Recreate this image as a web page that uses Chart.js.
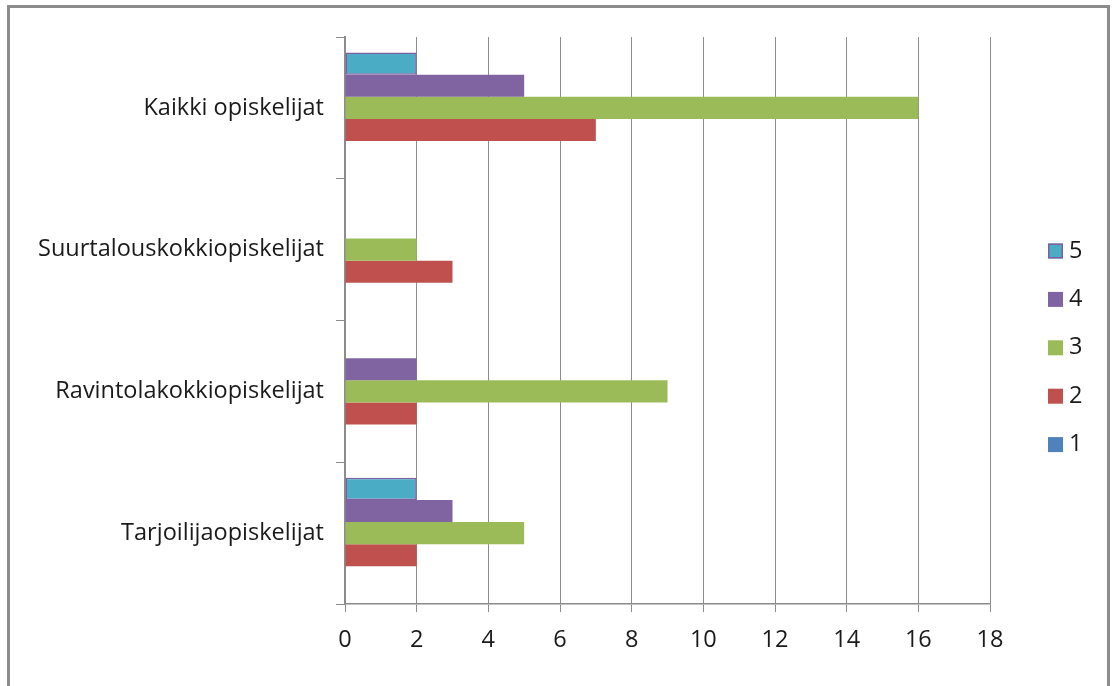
<!DOCTYPE html>
<html>
<head>
<meta charset="utf-8">
<script src="https://cdn.jsdelivr.net/npm/chart.js@4/dist/chart.umd.min.js"></script>
<style>
  html, body { margin: 0; padding: 0; background: #fff; overflow: hidden; }
  #wrap { position: relative; width: 1112px; height: 686px; }
  #frame {
    position: absolute; left: 7px; top: 5px; width: 1097px; height: 700px;
    border: 3px solid #8c8c8c; border-bottom: none; pointer-events: none;
  }
  canvas { position: absolute; left: 0; top: 0; }
</style>
</head>
<body>
<div id="wrap">
  <canvas id="chart" width="1112" height="686"></canvas>
  <div id="frame"></div>
</div>
<script>
// Student groups (top to bottom) and answer counts per rating 1–5
const categories = ["Kaikki opiskelijat", "Suurtalouskokkiopiskelijat", "Ravintolakokkiopiskelijat", "Tarjoilijaopiskelijat"];
const rating5 = [2, 0, 0, 2];
const rating4 = [5, 0, 2, 3];
const rating3 = [16, 2, 9, 5];
const rating2 = [7, 3, 2, 2];
const rating1 = [0, 0, 0, 0];
const xTicks = [0, 2, 4, 6, 8, 10, 12, 14, 16, 18];

const FONT = "'Open Sans', sans-serif";
const FONT_SIZE = 23.5;
const TEXT = "#1a1a1a";
const GRID = "#8c8c8c";

function ds(label, data, color, border) {
  return {
    label, data,
    backgroundColor: color,
    borderColor: border || color,
    borderWidth: c => (border && c.raw > 0 ? 1.5 : 0),
    borderSkipped: false
  };
}

// Legend drawn on the right, top to bottom in dataset order
const sideLegend = {
  id: "sideLegend",
  afterDraw(chart) {
    const ctx = chart.ctx;
    const items = chart.data.datasets;
    const x0 = 1048, y0 = 251, step = 48.4, box = 15;
    ctx.save();
    ctx.font = FONT_SIZE + "px " + FONT;
    ctx.textBaseline = "middle";
    ctx.textAlign = "left";
    items.forEach((d, i) => {
      const cy = y0 + i * step;
      ctx.fillStyle = d.backgroundColor;
      ctx.fillRect(x0, cy - box / 2, box, box);
      if (d.borderColor !== d.backgroundColor) {
        ctx.strokeStyle = d.borderColor;
        ctx.lineWidth = 1.5;
        ctx.strokeRect(x0 + 0.75, cy - box / 2 + 0.75, box - 1.5, box - 1.5);
      }
      ctx.fillStyle = TEXT;
      ctx.fillText(d.label, x0 + 21, cy);
    });
    ctx.restore();
  }
};

new Chart(document.getElementById("chart"), {
  type: "bar",
  data: {
    labels: categories,
    datasets: [
      ds("5", rating5, "#4BACC6", "#7E5FA2"),
      ds("4", rating4, "#8064A2"),
      ds("3", rating3, "#9BBB59"),
      ds("2", rating2, "#C0504D"),
      ds("1", rating1, "#4F81BD")
    ]
  },
  options: {
    indexAxis: "y",
    responsive: false,
    animation: false,
    categoryPercentage: 0.78,
    barPercentage: 1.0,
    layout: { padding: { left: 10, top: 37, right: 122, bottom: 20 } },
    plugins: { legend: { display: false }, tooltip: { enabled: false } },
    scales: {
      x: {
        min: 0, max: 18,
        afterBuildTicks: s => { s.ticks = xTicks.map(v => ({ value: v })); },
        afterFit: s => { s.height = 62; },
        grid: { color: GRID, lineWidth: 1, drawTicks: true, tickLength: 8, tickColor: GRID },
        border: { display: true, color: GRID, width: 1.5 },
        ticks: { color: TEXT, font: { family: FONT, size: FONT_SIZE }, padding: 14 }
      },
      y: {
        afterFit: s => { s.width = 335; },
        grid: { drawOnChartArea: false, drawTicks: true, tickLength: 9, color: GRID, offset: true },
        border: { display: true, color: GRID, width: 2 },
        ticks: { color: TEXT, font: { family: FONT, size: FONT_SIZE }, padding: 12 }
      }
    }
  },
  plugins: [sideLegend]
});
</script>
</body>
</html>
